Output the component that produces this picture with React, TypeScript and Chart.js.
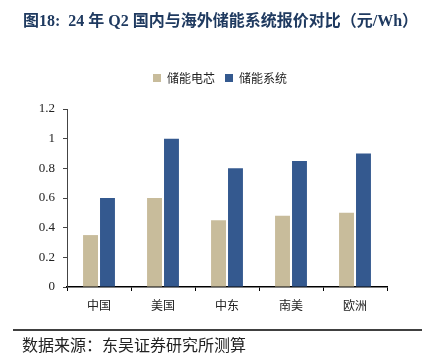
import { useEffect, useRef } from 'react';
import { Chart, registerables } from 'chart.js';

Chart.register(...registerables);

const categories = ['中国', '美国', '中东', '南美', '欧洲'];
const seriesNames = ['储能电芯', '储能系统'];
const cellValues = [0.35, 0.6, 0.45, 0.48, 0.5];
const systemValues = [0.6, 1.0, 0.8, 0.85, 0.9];
const yMin = 0;
const yMax = 1.2;
const yStep = 0.2;
const titleText = '图18:  24 年 Q2 国内与海外储能系统报价对比（元/Wh）';
const sourceText = '数据来源：东吴证券研究所测算';

const W = 426;
const H = 357;
const CJK = '"Noto Sans CJK SC"';
const SERIF = '"Liberation Serif", "Times New Roman"';

const decorPlugin = {
  id: 'decor',
  afterDraw(chart: any) {
    const ctx = chart.ctx as CanvasRenderingContext2D;
    ctx.save();
    ctx.fillStyle = '#1F3A60';
    ctx.textBaseline = 'middle';
    ctx.textAlign = 'left';
    ctx.font = `bold 16px ${SERIF}, ${CJK}`;
    ctx.fillText(titleText, 23, 22);
    ctx.strokeStyle = '#000';
    ctx.lineWidth = 1.5;
    ctx.beginPath();
    ctx.moveTo(13, 330);
    ctx.lineTo(422, 330);
    ctx.stroke();
    ctx.fillStyle = '#222';
    ctx.font = `16px ${CJK}`;
    ctx.fillText(sourceText, 22, 345);
    ctx.restore();
  },
};

export default function App() {
  const ref = useRef<HTMLCanvasElement | null>(null);
  useEffect(() => {
    if (!ref.current) return;
    const chart = new Chart(ref.current, {
      type: 'bar',
      data: {
        labels: categories,
        datasets: [
          {
            label: seriesNames[0],
            data: cellValues,
            backgroundColor: '#C8BC9B',
            barPercentage: 0.88,
            categoryPercentage: 0.53,
          },
          {
            label: seriesNames[1],
            data: systemValues,
            backgroundColor: '#34598F',
            barPercentage: 0.88,
            categoryPercentage: 0.53,
          },
        ],
      },
      options: {
        responsive: false,
        animation: false,
        devicePixelRatio: 1,
        layout: { padding: { top: 62, left: 23, right: 9, bottom: 0 } },
        plugins: {
          legend: {
            position: 'top',
            labels: {
              boxWidth: 8,
              boxHeight: 8,
              padding: 10,
              color: '#222',
              font: { family: CJK, size: 12 },
            },
          },
          subtitle: {
            display: true,
            text: ' ',
            position: 'top',
            weight: 500,
            font: { size: 10 },
            padding: { top: 0, bottom: 3 },
          } as any,
          title: { display: false },
          tooltip: { enabled: false },
        },
        scales: {
          x: {
            grid: {
              drawOnChartArea: false,
              drawTicks: true,
              tickLength: 4,
              color: '#000',
              offset: true,
            },
            border: { color: '#000', width: 1.5 },
            ticks: {
              color: '#222',
              padding: 7,
              font: { family: CJK, size: 12 },
            },
            afterFit(scale: any) {
              scale.height = 70;
            },
          },
          y: {
            min: yMin,
            max: yMax,
            grid: {
              drawOnChartArea: false,
              drawTicks: true,
              tickLength: 4,
              color: '#444',
            },
            border: { color: '#444', width: 1 },
            ticks: {
              stepSize: yStep,
              color: '#222',
              padding: 8,
              font: { family: SERIF, size: 13 },
              callback: (v: any) => String(Number(Number(v).toFixed(1))),
            },
            afterFit(scale: any) {
              scale.width = 44;
            },
          },
          ySpacer: {
            type: 'linear',
            position: 'right',
            min: yMin,
            max: yMax,
            grid: { display: false },
            border: { display: false },
            ticks: { display: false },
            afterFit(scale: any) {
              scale.width = 30;
            },
          } as any,
        },
      },
      plugins: [decorPlugin],
    });
    return () => chart.destroy();
  }, []);
  return (
    <div style={{ position: 'absolute', left: 0, top: 0, width: W, height: H, background: '#fff' }}>
      <canvas ref={ref} width={W} height={H} style={{ width: W, height: H, display: 'block' }} />
    </div>
  );
}
